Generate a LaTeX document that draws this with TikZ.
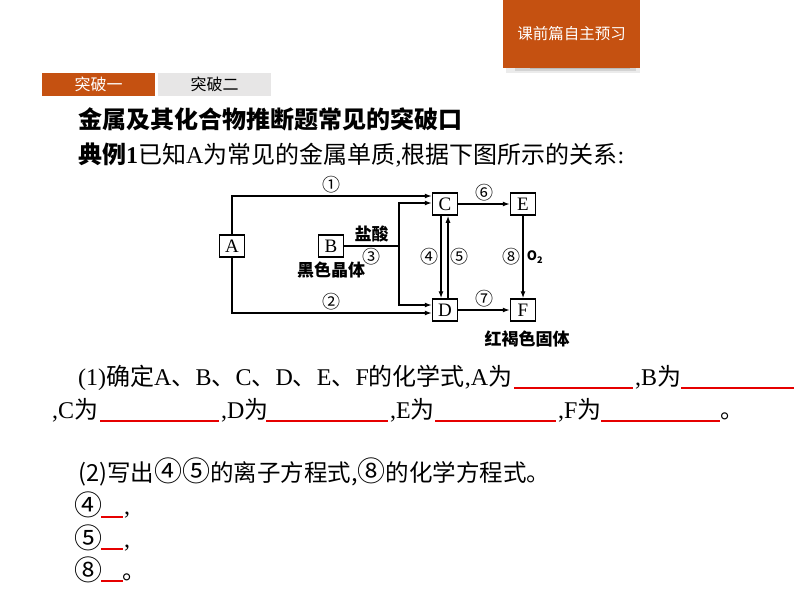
\documentclass[tikz,border=0pt]{standalone}
\usepackage{fontspec}
\setmainfont{Liberation Serif}
\newfontfamily\cjkfont{Noto Sans CJK SC}
\newcommand{\zh}[1]{{\cjkfont #1}}
\newcommand{\ci}[1]{{\fontsize{28}{28}\selectfont #1}}
\usetikzlibrary{arrows.meta,positioning}
\definecolor{bannerred}{RGB}{197,81,17}
\definecolor{tabgray}{RGB}{231,230,230}
\definecolor{blankred}{RGB}{230,0,0}

\begin{document}
\begin{tikzpicture}[x=1pt,y=-1pt,
    box/.style={draw,line width=1.5pt,minimum width=25pt,minimum height=22pt,inner sep=0pt,font=\fontsize{19}{19}\selectfont},
    arr/.style={-{Latex[length=7pt,width=5pt]},line width=1.3pt},
    num/.style={font=\fontsize{18}{18}\selectfont\cjkfont,inner sep=2pt},
    lbl/.style={font=\fontsize{17}{17}\selectfont\cjkfont\bfseries},
    txt/.style={anchor=base west,inner sep=0pt,font=\fontsize{24}{24}\selectfont},
    zhtxt/.style={txt,font=\fontsize{23.5}{23.5}\selectfont\cjkfont},
    blank/.style={color=blankred,line width=1.8pt},
    tab/.style={minimum width=113pt,minimum height=23pt,inner sep=0pt,font=\fontsize{16}{16}\selectfont\cjkfont}]

  \useasboundingbox (0,0) rectangle (794,596);
  \fill[white] (0,0) rectangle (794,596);

  % header and tabs
  \fill[black,opacity=.08] (506,68) rectangle (640,73);
  \fill[black,opacity=.10] (515,68) rectangle (636,71);
  \fill[black,opacity=.12] (530,68) rectangle (630,69.5);
  \node[fill=bannerred,text=white,minimum width=137pt,minimum height=68pt,inner sep=0pt,font=\fontsize{15.5}{15.5}\selectfont\cjkfont] (banner) at (571.5,34) {课前篇自主预习};
  \node[tab,fill=bannerred,text=white] (tab1) at (98.5,84.5) {突破一};
  \node[tab,fill=tabgray] (tab2) at (214.5,84.5) {突破二};

  \node[txt,font=\fontsize{24}{24}\selectfont\cjkfont\bfseries] (title) at (78,129) {金属及其化合物推断题常见的突破口};
  \node[txt] (intro) at (78,164) {\zh{\bfseries 典例}\textbf{1}\zh{已知}A\zh{为常见的金属单质},\zh{根据下图所示的关系}:};

  % diagram
  \node[box] (A) at (232,246) {A};
  \node[box] (B) at (331,246) {B};
  \node[box] (C) at (445,204) {C};
  \node[box] (E) at (523,204) {E};
  \node[box] (D) at (445,310) {D};
  \node[box] (F) at (523,310) {F};
  \coordinate (Bj) at (399,246);

  \draw[arr] (A.north) |- ([yshift=8pt]C.west) node[num,pos=.75,above] (n1) {①};
  \draw[arr] (A.south) |- ([yshift=-3pt]D.west) node[num,pos=.75,above] (n2) {②};
  \draw[line width=1.3pt] (B.east) -- (Bj) node[lbl,midway,above] (hcl) {盐酸} node[num,midway,below] (n3) {③};
  \draw[arr] (Bj) |- ([yshift=1pt]C.west);
  \draw[arr] (Bj) |- ([yshift=5pt]D.west);
  \draw[arr] ([xshift=-4pt]C.south) -- ([xshift=-4pt]D.north) node[num,midway,left] (n4) {④};
  \draw[arr] ([xshift=3pt]D.north) -- ([xshift=3pt]C.south) node[num,midway,right] (n5) {⑤};
  \draw[arr] (C) -- (E) node[num,midway,above] (n6) {⑥};
  \draw[arr] (D) -- (F) node[num,midway,above] (n7) {⑦};
  \draw[arr] (E) -- (F) node[num,midway,left] (n8) {⑧}
    node[midway,right,font=\fontsize{13}{13}\selectfont\cjkfont\bfseries] (o2) {O\textsubscript{2}};
  \node[lbl,below=1pt of B] (solid) {黑色晶体};
  \node[lbl,below=6pt of F,xshift=4pt] (rust) {红褐色固体};

  % question (1)
  \node[txt] (q1a) at (78,385) {(1)\zh{确定}A\zh{、}B\zh{、}C\zh{、}D\zh{、}E\zh{、}F\zh{的化学式},A\zh{为}};
  \draw[blank] (514,388) -- (633,388);
  \node[txt] (q1b) at (635,385) {,B\zh{为}};
  \draw[blank] (681,388) -- (794,388);
  \node[txt] (q1c) at (52,418) {,C\zh{为}};
  \draw[blank] (100,421) -- (219,421);
  \node[txt] (q1d) at (221,418) {,D\zh{为}};
  \draw[blank] (266,421) -- (388,421);
  \node[txt] (q1e) at (390,418) {,E\zh{为}};
  \draw[blank] (435,421) -- (556,421);
  \node[txt] (q1f) at (558,418) {,F\zh{为}};
  \draw[blank] (601,421) -- (720,421);
  \node[zhtxt] (q1g) at (720,418) {。};

  % question (2)
  \node[zhtxt] (q2) at (78,481) {(2)写出\ci{④⑤}的离子方程式,\ci{⑧}的化学方程式。};
  \node[zhtxt] (a4) at (74,515) {\ci{④}};
  \draw[blank] (101,517) -- (123,517);
  \node[txt] (c4) at (124,514) {,};
  \node[zhtxt] (a5) at (74,548) {\ci{⑤}};
  \draw[blank] (101,549) -- (123,549);
  \node[txt] (c5) at (124,547) {,};
  \node[zhtxt] (a8) at (74,580) {\ci{⑧}};
  \draw[blank] (101,581) -- (123,581);
  \node[zhtxt] (c8) at (122,579) {。};
\end{tikzpicture}
\end{document}
